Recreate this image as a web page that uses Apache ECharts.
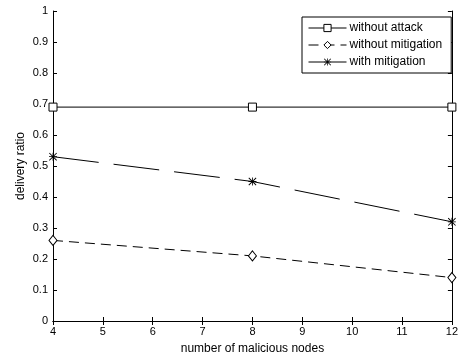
<!DOCTYPE html>
<html>
<head>
<meta charset="utf-8">
<script src="https://cdn.jsdelivr.net/npm/echarts@6/dist/echarts.min.js"></script>
<style>
html,body{margin:0;padding:0;background:#fff;}
#chart{width:461px;height:360px;}
</style>
</head>
<body>
<div id="chart"></div>
<script>
// Number of malicious nodes on the x axis
const nodes = [4, 8, 12];
// Delivery ratio for each scenario
const withoutAttack = [0.69, 0.69, 0.69];
const withoutMitigation = [0.26, 0.21, 0.14];
const withMitigation = [0.53, 0.45, 0.32];
const seriesNames = ['without attack', 'without mitigation', 'with mitigation'];
const yTicks = [0, 0.1, 0.2, 0.3, 0.4, 0.5, 0.6, 0.7, 0.8, 0.9, 1];

const font = '"Liberation Sans", Arial, Helvetica, sans-serif';
const asterisk = 'path://M4.5,0h1v10h-1z M0,4.5h10v1h-10z M0,0.8L0.8,0L10,9.2L9.2,10Z M9.2,0L10,0.8L0.8,10L0,9.2Z';

const pairs = arr => nodes.map((x, i) => [x, arr[i]]);

const chart = echarts.init(document.getElementById('chart'), null, {renderer: 'canvas'});

const axisLine = {show: true, lineStyle: {color: '#000', width: 1}};
const tick = {show: true, inside: true, length: 4, lineStyle: {color: '#000', width: 1}};

chart.setOption({
  animation: false,
  backgroundColor: '#fff',
  textStyle: {fontFamily: font},
  grid: {left: 53, right: 7, top: 11, bottom: 36, containLabel: false},
  legend: {
    orient: 'vertical',
    left: 302,
    top: 17,
    padding: [5, 9, 5, 6],
    itemGap: 5,
    itemWidth: 38,
    itemHeight: 9,
    backgroundColor: '#fff',
    borderColor: '#000',
    borderWidth: 1,
    borderRadius: 0,
    lineStyle: {width: 1},
    itemStyle: {borderWidth: 1},
    textStyle: {fontFamily: font, fontSize: 12, color: '#000', padding: [0, 0, 0, -2]},
    data: [
      {name: seriesNames[0]},
      {name: seriesNames[1]},
      {name: seriesNames[2], lineStyle: {type: 'solid', width: 1}}
    ]
  },
  xAxis: [
    {
      type: 'value', min: 4, max: 12, interval: 1,
      name: 'number of malicious nodes', nameLocation: 'middle', nameGap: 22,
      nameMoveOverlap: false,
      nameTextStyle: {fontFamily: font, fontSize: 12, color: '#000'},
      axisLine: axisLine, axisTick: tick, splitLine: {show: false},
      axisLabel: {fontFamily: font, fontSize: 11, color: '#000', margin: 5}
    },
    {
      type: 'value', min: 4, max: 12, interval: 1, position: 'top',
      axisLine: axisLine, axisTick: tick, splitLine: {show: false},
      axisLabel: {show: false}
    }
  ],
  yAxis: [
    {
      type: 'value', min: 0, max: 1, interval: 0.1,
      name: 'delivery ratio', nameLocation: 'middle', nameGap: 26,
      nameMoveOverlap: false,
      nameTextStyle: {fontFamily: font, fontSize: 12, color: '#000'},
      axisLine: axisLine, axisTick: tick, splitLine: {show: false},
      axisLabel: {
        fontFamily: font, fontSize: 11, color: '#000', margin: 5,
        formatter: v => {
          const t = yTicks.find(k => Math.abs(k - v) < 1e-9);
          return t === undefined ? '' : String(t);
        }
      }
    },
    {
      type: 'value', min: 0, max: 1, interval: 0.1, position: 'right',
      axisLine: axisLine, axisTick: tick, splitLine: {show: false},
      axisLabel: {show: false}
    }
  ],
  series: [
    {
      name: seriesNames[0], type: 'line', data: pairs(withoutAttack),
      symbol: 'rect', symbolSize: 8, showSymbol: true, clip: false,
      lineStyle: {color: '#000', width: 1, type: 'solid'},
      itemStyle: {color: '#fff', borderColor: '#000', borderWidth: 1}
    },
    {
      name: seriesNames[1], type: 'line', data: pairs(withoutMitigation),
      symbol: 'diamond', symbolSize: [8, 10], showSymbol: true, clip: false,
      lineStyle: {color: '#000', width: 1, type: [10, 6]},
      itemStyle: {color: '#fff', borderColor: '#000', borderWidth: 1}
    },
    {
      name: seriesNames[2], type: 'line', data: pairs(withMitigation),
      symbol: asterisk, symbolSize: 8, showSymbol: true, clip: false,
      lineStyle: {color: '#000', width: 1, type: [46, 15]},
      itemStyle: {color: '#000', borderWidth: 0}
    }
  ]
});
</script>
</body>
</html>
